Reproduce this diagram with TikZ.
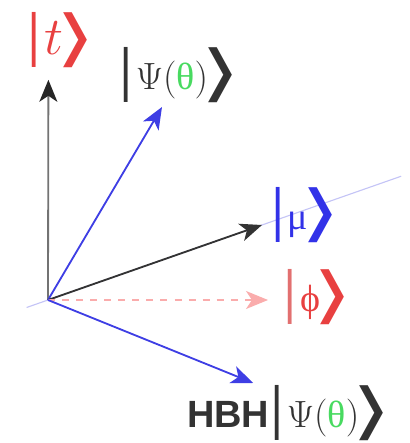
\RequirePackage{fix-cm}
\documentclass[tikz,border=0pt]{standalone}
\usepackage{fontspec}
\usepackage{xcolor}
\usepackage{tikz}
\usetikzlibrary{calc,arrows.meta,positioning}

\newfontfamily\grk{Liberation Serif}
\newfontfamily\symfont{DejaVu Sans}
\newfontfamily\hbhfont{Liberation Sans}

\definecolor{ketred}{RGB}{232,64,64}
\definecolor{barred}{RGB}{226,112,112}
\definecolor{ketblue}{RGB}{50,50,232}
\definecolor{vecblue}{RGB}{62,62,228}
\definecolor{axisblue}{RGB}{196,196,246}
\definecolor{dashpink}{RGB}{250,172,172}
\definecolor{thgreen}{RGB}{72,218,96}

% ket pieces
\newcommand\ketbar{\scalebox{1.2}[1.45]{\symfont |}\kern0.06em}
\newcommand\ketend{\kern-0.36em\scalebox{1.6}[1.45]{\symfont ❭}\kern-0.2em}
\newcommand\psitheta{$\Psi($\mbox{\color{thgreen}\grk θ}$)$}

\begin{document}
\begin{tikzpicture}[
    vec/.style={line width=1.3pt, -{Stealth[length=5.5mm,width=4.5mm,inset=1.5mm]}},
    ketlabel/.style={inner sep=0pt, font=\fontsize{27}{32}\selectfont}
]
    \useasboundingbox (0,0) rectangle (10.25,11.075);

    % Origin and arrow tips
    \coordinate (o) at (1.2,3.575);
    \coordinate (tipT) at (1.21,9.08);
    \coordinate (tipPsi) at (4.05,8.4);
    \coordinate (tipMu) at (6.55,5.45);
    \coordinate (tipPhi) at (6.7,3.575);
    \coordinate (tipHbh) at (6.33,1.5);

    % Axis line through |mu>
    \coordinate (axA) at ($(o)!-0.1!(tipMu)$);
    \coordinate (axB) at ($(o)!1.65!(tipMu)$);
    \draw[axisblue, line width=0.8pt] (axA) -- (axB);

    % Vectors
    \draw[vec, black!55, -{Stealth[length=5.5mm,width=4.5mm,inset=1.5mm,black!85]}] (o) -- (tipT);
    \draw[vec, vecblue] (o) -- (tipPsi);
    \draw[vec, black!80] (o) -- (tipMu);
    \draw[vec, dashpink, line width=0.8pt, dash pattern=on 5pt off 5pt] (o) -- (tipPhi);
    \draw[vec, vecblue] (o) -- (tipHbh);

    % Kets
    \node[ketlabel, text=ketred] (t) at (1.5,10.075) {\ketbar{\fontsize{38}{40}\selectfont$t$}\ketend};
    \node[ketlabel, text=black!80] (psi) at (4.45,9.2) {\ketbar\psitheta\ketend};
    \node[ketlabel, text=ketblue] (mu) at (7.6,5.7) {\ketbar{\grk μ}\ketend};
    \node[ketlabel, text=ketred] (phi) at (7.9,3.65) {{\color{barred}\ketbar}{\grk ϕ}\ketend};
    \node[ketlabel, text=black!80] (hbh) at (7.2,0.75) {{\hbhfont\bfseries HBH}\ketbar\psitheta\ketend};
\end{tikzpicture}
\end{document}
